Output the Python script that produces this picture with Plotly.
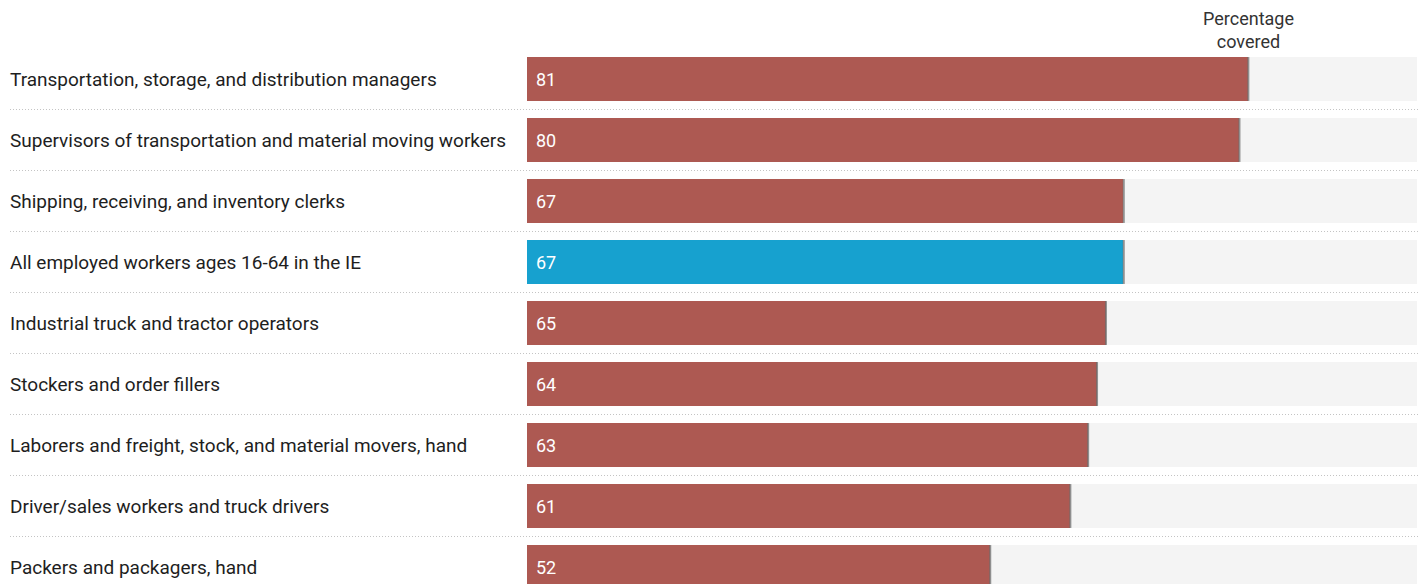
import plotly.graph_objects as go

categories = [
    "Transportation, storage, and distribution managers",
    "Supervisors of transportation and material moving workers",
    "Shipping, receiving, and inventory clerks",
    "All employed workers ages 16-64 in the IE",
    "Industrial truck and tractor operators",
    "Stockers and order fillers",
    "Laborers and freight, stock, and material movers, hand",
    "Driver/sales workers and truck drivers",
    "Packers and packagers, hand",
]
values = [81, 80, 67, 67, 65, 64, 63, 61, 52]
highlight = [False, False, False, True, False, False, False, False, False]
full_scale = 100
header = "Percentage<br>covered"

RED = "#ad5952"
BLUE = "#17a1cf"
BG = "#f4f4f4"

OFF = 8  # page body margin
W, H = 1426 - OFF, 584 - OFF
L, B = 527 - OFF, 0
T = 48 - OFF
R = W - (1417 - OFF)
pw = W - L - R
ph = H - T - B

ys = list(range(len(categories)))
bar_w = 0.72

fig = go.Figure()
fig.add_trace(go.Bar(
    x=[full_scale] * len(values), y=ys, orientation="h", width=bar_w,
    marker=dict(color=BG, line=dict(width=0)), hoverinfo="skip", showlegend=False,
))
fig.add_trace(go.Bar(
    x=values, y=ys, orientation="h", width=bar_w,
    marker=dict(color=[BLUE if h else RED for h in highlight], line=dict(width=0)),
    hoverinfo="skip", showlegend=False,
))

shapes = []
x_left_paper = (10 - OFF - L) / pw
x_right_paper = (1418 - OFF - L) / pw
for i, v in enumerate(values):
    shapes.append(dict(type="line", xref="x", yref="y", x0=v + 0.05, x1=v + 0.05,
                       y0=i - bar_w / 2, y1=i + bar_w / 2,
                       line=dict(color="rgba(110,110,110,0.75)", width=2)))
    if i < len(values) - 1:
        shapes.append(dict(type="line", xref="paper", yref="y", x0=x_left_paper, x1=x_right_paper,
                           y0=i + 0.5, y1=i + 0.5,
                           line=dict(color="#c4c4c4", width=1, dash="1px,2px")))

annotations = []
for i, c in enumerate(categories):
    annotations.append(dict(text=c, xref="paper", yref="y", x=x_left_paper, y=i, xshift=-2,
                            xanchor="left", yanchor="middle", showarrow=False,
                            font=dict(family="Roboto", size=19, color="#1e1e1e")))
for i, v in enumerate(values):
    annotations.append(dict(text=str(v), xref="x", yref="y", x=0, y=i, xshift=7,
                            xanchor="left", yanchor="middle", showarrow=False,
                            font=dict(family="Roboto", size=18, color="white")))
annotations.append(dict(text=header, xref="paper", yref="paper", x=(1248 - OFF - L) / pw,
                        y=(H - (30 - OFF) - B) / ph, xanchor="center", yanchor="middle", showarrow=False,
                        font=dict(family="Roboto", size=18, color="#333333")))

top_pad = (79 - 48) / 61
bot_pad = (584 - 567) / 61
fig.update_layout(
    width=W, height=H, margin=dict(l=L, r=R, t=T, b=B, pad=0),
    paper_bgcolor="white", plot_bgcolor="white", barmode="overlay", bargap=0,
    xaxis=dict(range=[0, full_scale], visible=False, fixedrange=True),
    yaxis=dict(range=[len(values) - 1 + bot_pad, -top_pad], visible=False, fixedrange=True),
    shapes=shapes, annotations=annotations,
)
fig.write_html("out.html")
